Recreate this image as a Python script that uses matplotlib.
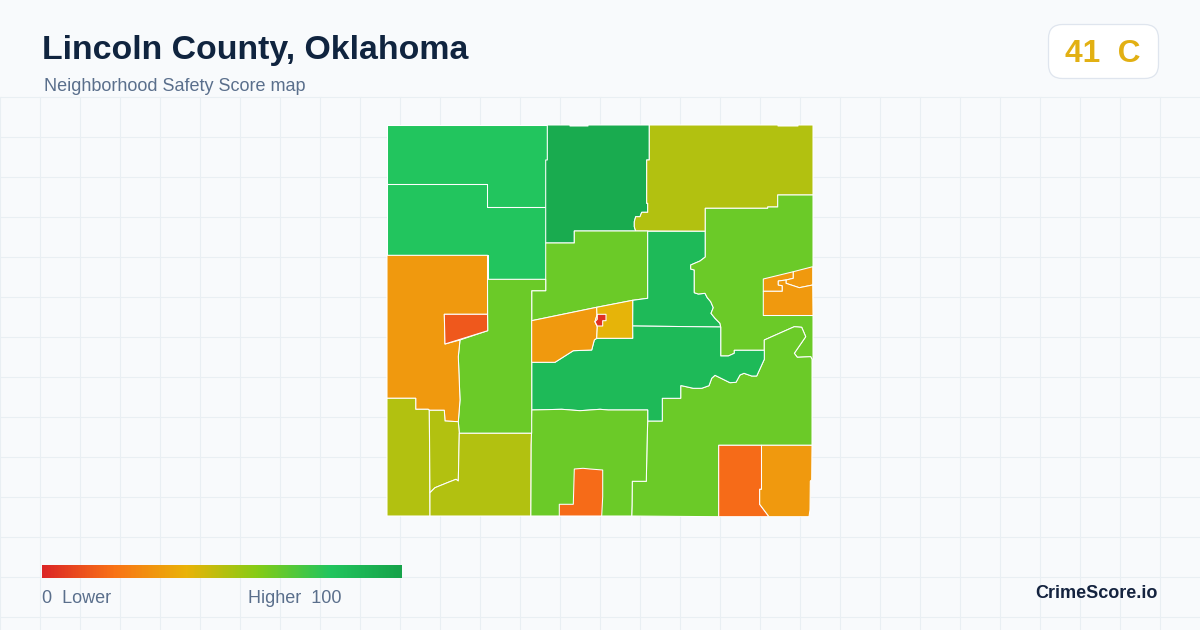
#!/usr/bin/env python3
import numpy as np
import matplotlib
matplotlib.use("Agg")
import matplotlib.pyplot as plt
from matplotlib.colors import LinearSegmentedColormap, Normalize
from matplotlib.patches import FancyBboxPatch

plt.rcParams["font.family"] = ["Liberation Sans", "DejaVu Sans"]

TITLE = "Lincoln County, Oklahoma"
SUBTITLE = "Neighborhood Safety Score map"
COUNTY_SCORE = 41
COUNTY_GRADE = "C"

# colour ramp used by the legend and the tracts
score_stops = [0, 20, 40, 60, 80, 100]
stop_colors = ["#dc2626", "#f97316", "#eab308", "#84cc16", "#22c55e", "#16a34a"]

# boundaries shared between tracts (screen pixels)
mid_river = [(705.3, 257), (700, 261), (690.7, 265), (690.7, 269), (694.3, 270), (694.3, 292.7),
             (698.3, 294), (705, 293.3), (707.3, 297.7), (710.7, 301.7), (713.3, 307.7),
             (711, 313.3), (715, 318.3), (720, 323.3), (720.7, 327)]
south_river = [(720.7, 356), (728.3, 356), (734.3, 353.3), (734.3, 350.3), (764.3, 350.3)]
south_river2 = [(764.3, 359.3), (756.7, 376), (751.7, 376), (744, 373.3), (740, 375), (736, 382.3),
                (730, 382.7), (715, 375.3), (711.7, 378.3), (709, 385.7), (701.7, 388.3),
                (693.3, 388.3), (681.7, 385.7), (680.7, 385.7), (680.7, 398.3), (662.3, 398.3),
                (662.3, 421), (647.7, 421), (647.7, 410)]
inlet = [(764.3, 340), (794.3, 326.7), (801.7, 327.3), (805.7, 336.7), (794.3, 353.3),
         (797.3, 357.3), (810.7, 356.7), (812, 359.3)]
north_creek = [(649.3, 125), (649.3, 160), (646.7, 160), (646.7, 203.3), (647.7, 203.3), (647.7, 212.3),
               (641.7, 212.3), (640, 216.7), (635.7, 216.7), (634.3, 221.7), (634.3, 226.7), (635.7, 231)]

tract_names = ["nw", "west_north", "north", "northeast", "north_mid", "center_north", "east",
               "south_east", "center", "south_mid", "west_mid", "west_orange", "west_pocket",
               "sw_edge", "sw_strip", "sw_block", "town_west", "town_east", "town_core",
               "east_a", "east_b", "east_c", "se_a", "se_b", "south_pocket"]

tract_scores = [80, 80, 95, 51, 65, 86, 65, 65, 86, 65, 65, 32, 13, 51, 51, 51, 32, 41, 3,
                32, 32, 32, 18, 32, 18]

tract_shapes = [
    [(387, 125), (547.3, 125), (547.3, 160), (545.7, 160), (545.7, 207), (487.3, 207), (487.3, 195.7),
     (486.7, 195.7), (486.7, 184.3), (387, 184.3)],
    [(387, 184.3), (486.7, 184.3), (486.7, 195.7), (487.3, 195.7), (487.3, 207), (545.7, 207),
     (545.7, 279.3), (487.5, 279.3), (487.5, 255.3), (387, 255.3)],
    [(547.3, 125), (570, 125), (570, 126), (588, 126), (588, 125)] + north_creek
    + [(574.3, 231), (574.3, 243), (545.7, 243), (545.7, 160), (547.3, 160)],
    north_creek + [(705.3, 231.3), (705.3, 208.3), (767.7, 208.3), (767.7, 207), (777.7, 207), (777.7, 195),
                   (813, 195), (813, 125), (798, 125), (798, 126), (778, 126), (778, 125)],
    [(574.3, 231), (647.7, 231), (647.7, 298.3), (632.7, 300.3), (596.7, 307.3), (531.7, 320.7),
     (531.7, 290.7), (545.7, 290.7), (545.7, 243), (574.3, 243)],
    [(647.7, 231.3), (705.3, 231.3)] + mid_river + [(632.5, 326), (632.7, 300.3), (647.7, 298.3)],
    [(705.3, 231.3), (705.3, 208.3), (767.7, 208.3), (767.7, 207), (777.7, 207), (777.7, 195), (813, 195),
     (813, 359.3)] + inlet[::-1] + [(764.3, 350.3)] + south_river[::-1] + mid_river[::-1],
    [(764.3, 350.3)] + inlet + [(812, 445.3), (718.7, 445.3), (718.7, 516.7), (631.7, 516), (632, 505),
                                (632.3, 481.3), (646.3, 481.3), (647, 445)]
    + south_river2[-2::-1],
    [(531.7, 362.3), (555, 362.3), (573.3, 350.7), (591.7, 350), (594.3, 340), (596.7, 338.3), (632.7, 338.3),
     (632.5, 326), (720.7, 327)] + south_river + south_river2
    + [(608.3, 410), (600, 409.3), (580, 410.7), (561.7, 409.3), (531.7, 410)],
    [(531.7, 410), (561.7, 409.3), (580, 410.7), (600, 409.3), (608.3, 410), (647.7, 410), (647.7, 421),
     (647, 445), (646.3, 481.3), (632.3, 481.3), (632, 505), (631.7, 516), (530.7, 516), (531, 445)],
    [(487.5, 279.3), (545.7, 279.3), (545.7, 290.7), (531.7, 290.7), (531.7, 433.3), (459.3, 433.3),
     (458.3, 421.7), (460, 400), (458.3, 356.7), (460, 340), (487.7, 330.7)],
    [(387, 255.3), (487.5, 255.3), (487.5, 314.3), (444.3, 314.3), (445, 344), (460, 340), (458.3, 356.7),
     (460, 400), (458.3, 421.7), (445, 421), (444.3, 410.3), (429.3, 410.3), (428.3, 409.3), (415.7, 409.3),
     (415.7, 398.3), (387, 398.3)],
    [(444.3, 314.3), (487.5, 314.3), (487.7, 330.7), (445, 344)],
    [(387, 398.3), (415.7, 398.3), (415.7, 409.3), (428.3, 409.3), (429.3, 410.3), (430, 516), (387, 516)],
    [(429.3, 410.3), (444.3, 410.3), (445, 421), (458.3, 421.7), (459.3, 433.3), (458.3, 481), (456, 479.3),
     (448.3, 482.3), (435, 487.7), (430, 492.7)],
    [(459.3, 433.3), (531.5, 433.3), (531, 445), (530.7, 516), (430, 516), (430, 492.7), (435, 487.7),
     (448.3, 482.3), (456, 479.3), (458.3, 481)],
    [(531.7, 320.7), (596.7, 307.3), (597, 315), (595, 321.7), (597.3, 326.7), (596.7, 338.3), (594.3, 340),
     (591.7, 350), (573.3, 350.7), (555, 362.3), (531.7, 362.3)],
    [(596.7, 307.3), (632.7, 300.3), (632.7, 338.3), (596.7, 338.3), (597.3, 326.7), (595, 321.7), (597, 315)],
    [(597.3, 314.3), (606, 314.3), (606, 320.7), (602.7, 320.7), (602.7, 326), (597.3, 326), (595, 321.7),
     (597.3, 319.3)],
    [(763.3, 279), (793.3, 271.7), (793.3, 278.3), (786, 280), (778.3, 281), (778.3, 285), (782.3, 285.7),
     (782.3, 291.3), (763.3, 291.3)],
    [(793.3, 271.7), (812.7, 266.7), (812.7, 285), (799.3, 287.7), (786, 283.3), (786, 280), (793.3, 278.3)],
    [(778.3, 281), (786, 280), (786, 283.3), (799.3, 287.7), (812.7, 285), (813, 315.5), (763.3, 315.5),
     (763.3, 291.3), (782.3, 291.3), (782.3, 285.7), (778.3, 285)],
    [(718.7, 445.3), (761.5, 445.3), (761.5, 489.3), (759.7, 489.3), (759.7, 504.3), (769, 516.7), (718.7, 516.7)],
    [(761.5, 445.3), (812, 445.3), (811.7, 480), (810.3, 481), (810, 510), (809, 516.7), (769, 516.7),
     (759.7, 504.3), (759.7, 489.3), (761.5, 489.3)],
    [(574.3, 469), (583, 468.3), (590, 469), (602.7, 470), (602.7, 496.7), (601.7, 516), (559.3, 516),
     (559.3, 504.3), (573.3, 504.3)],
]

ramp = LinearSegmentedColormap.from_list(
    "safety", [(s / 100, c) for s, c in zip(score_stops, stop_colors)])
norm = Normalize(0, 100)

fig = plt.figure(figsize=(12, 6.3), dpi=100, facecolor="#f8fafc")
ax = fig.add_axes([0, 0, 1, 1])
ax.axis("off")

# faint page grid under the map
for gx in np.arange(0, 1200, 40):
    ax.plot([gx, gx], [96.5, 630], color="#e9eff3", lw=0.8, zorder=1)
for gy in np.arange(96.5, 630, 40):
    ax.plot([0, 1200], [gy, gy], color="#e9eff3", lw=0.8, zorder=1)

for name, shape, score in zip(tract_names, tract_shapes, tract_scores):
    xs, ys = zip(*shape)
    ax.fill(xs, ys, facecolor=ramp(norm(score)), edgecolor="white", lw=0.75, joinstyle="round", zorder=2)

# header
ax.text(42, 59.5, TITLE, fontsize=24.4, fontweight="bold", color="#10243f", ha="left", va="baseline", zorder=5)
ax.text(44, 91, SUBTITLE, fontsize=13, color="#5a6f8c", ha="left", va="baseline", zorder=5)

badge = FancyBboxPatch((1048.5, 24.5), 110, 54, boxstyle="round,pad=0,rounding_size=14",
                       facecolor="white", edgecolor="#dfe5ee", lw=0.9, zorder=3)
ax.add_patch(badge)
ax.text(1103, 62, f"{COUNTY_SCORE}  {COUNTY_GRADE}", fontsize=22.8, fontweight="bold", color="#e2b013",
        ha="center", va="baseline", zorder=5)

# legend bar
gradient = np.linspace(0, 1, 360).reshape(1, -1)
ax.imshow(gradient, cmap=ramp, extent=(42, 402, 578, 565), aspect="auto", zorder=3)
ax.text(42, 602.7, "0  Lower", fontsize=13, color="#5a6f8c", ha="left", va="baseline", zorder=5)
ax.text(341.5, 602.7, "Higher  100", fontsize=13, color="#5a6f8c", ha="right", va="baseline", zorder=5)

ax.text(1158, 598.3, "CrimeScore.io", fontsize=13, fontweight="bold", color="#14233f",
        ha="right", va="baseline", zorder=5)

ax.set_xlim(0, 1200)
ax.set_ylim(630, 0)

fig.savefig("out.png", dpi=100, facecolor=fig.get_facecolor())
